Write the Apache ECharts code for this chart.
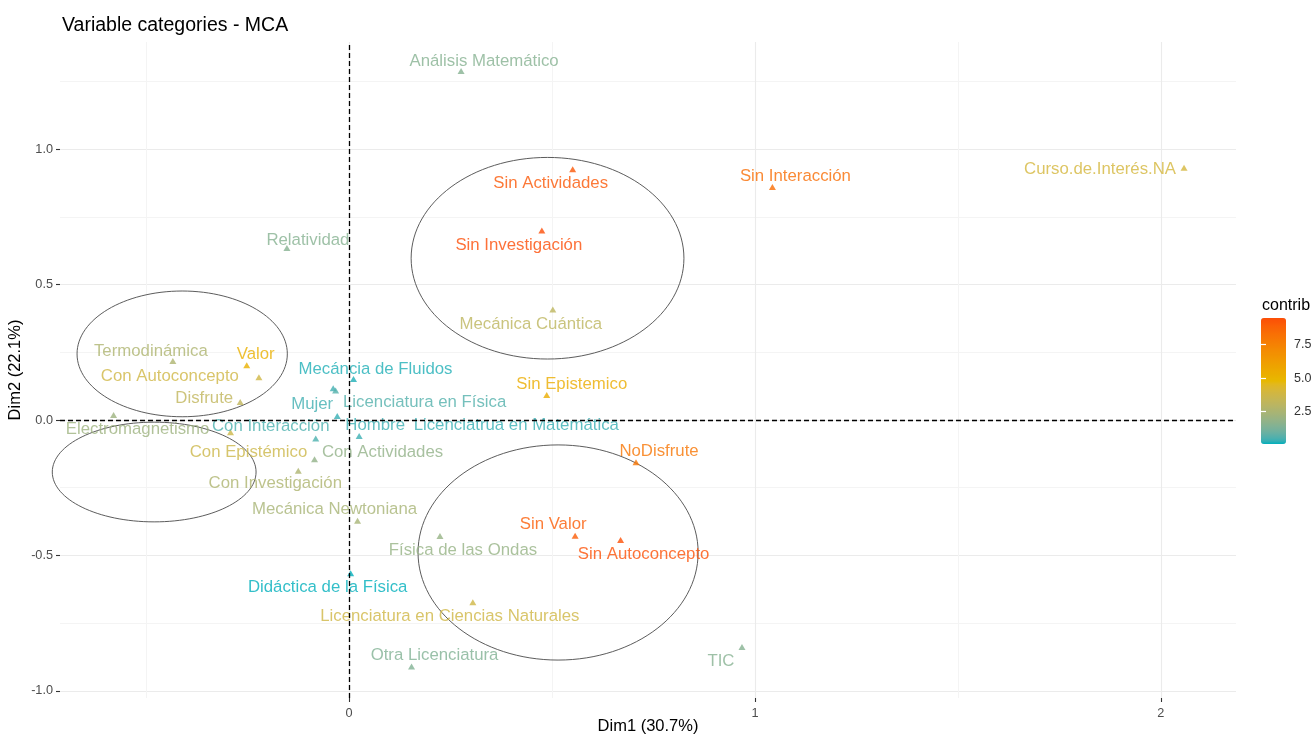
<!DOCTYPE html>
<html><head><meta charset="utf-8">
<script src="https://cdn.jsdelivr.net/npm/echarts@6/dist/echarts.min.js"></script>
<style>html,body{margin:0;padding:0;background:#fff}#c{width:1313px;height:735px}</style>
</head><body><div id="c"></div>
<script>
const categories = ["Análisis Matemático","Sin Actividades","Sin Interacción","Curso.de.Interés.NA","Sin Investigación","Relatividad","Mecánica Cuántica","Termodinámica","Valor","Con Autoconcepto","Disfrute","Electromagnetismo","Con Epistémico","Con Interacción","Con Actividades","Con Investigación","Mecáncia de Fluidos","Mujer","Licenciatura en Física","Licenciatrua en Matemática","Hombre","Sin Epistemico","NoDisfrute","Sin Valor","Sin Autoconcepto","Física de las Ondas","Licenciatura en Ciencias Naturales","Otra Licenciatura","Mecánica Newtoniana","Didáctica de la Física","TIC"];
const dim1 = [0.276,0.551,1.043,2.057,0.475,-0.153,0.502,-0.434,-0.252,-0.222,-0.268,-0.580,-0.292,-0.082,-0.085,-0.125,0.011,-0.039,-0.033,-0.029,0.025,0.487,0.707,0.557,0.669,0.224,0.305,0.154,0.021,0.004,0.968];
const dim2 = [1.288,0.925,0.860,0.931,0.699,0.635,0.408,0.218,0.202,0.158,0.066,0.018,-0.045,-0.068,-0.145,-0.187,0.151,0.117,0.109,0.015,-0.059,0.092,-0.156,-0.427,-0.443,-0.428,-0.673,-0.910,-0.372,-0.566,-0.838];
const contrib = [1.5,9.2,8.4,4.0,9.5,1.5,3.1,2.6,5.2,3.8,3.2,2.1,3.7,0.5,1.8,2.6,0.2,0.4,0.6,0.3,0.35,5.4,8.0,9.0,9.4,1.9,3.8,1.4,2.4,0.07,1.5];
// ellipse annotations: centre x, centre y, radius x, radius y (data units)
const ellipseCx = [0.489,-0.411,-0.480,0.515];
const ellipseCy = [0.597,0.244,-0.192,-0.489];
const ellipseRx = [0.336,0.259,0.251,0.345];
const ellipseRy = [0.372,0.232,0.184,0.397];
const xTicks = [0,1,2];
const xMinor = [-0.5,0.5,1.5];
const yTicks = [-1.0,-0.5,0.0,0.5,1.0];
const yMinor = [-0.75,-0.25,0.25,0.75,1.25];
const legendTicks = [2.5,5.0,7.5];
const gradientCols = ['#00AFBB','#E7B800','#FC4E07'];

// label placement (pixel offsets from the point, layout only)
const labelOffsets = [[23,-10],[-22,14],[23,-11],[-84,2],[-23,15],[21,-8],[-22,15],[-22,-10],[9,-11],[-89,-1],[-36,-4],[24,14],[18,20],[-45,-12],[68,-7],[-23,13],[22,-10],[-21,16],[89,12],[179,9],[16,-11],[25,-11],[23,-11],[-22,-11],[23,14],[23,14],[-23,14],[23,-11],[-23,-11],[-23,14],[-21,14]];

// Lab-space interpolation of the gradient (as ggplot does)
function hex2rgb(h){h=h.replace('#','');return [0,2,4].map(i=>parseInt(h.substr(i,2),16)/255);}
function lin(c){return c<=0.04045?c/12.92:Math.pow((c+0.055)/1.055,2.4);}
function delin(c){return c<=0.0031308?12.92*c:1.055*Math.pow(c,1/2.4)-0.055;}
function rgb2lab(rgb){
  const [r,g,b]=rgb.map(lin);
  let X=(0.4124*r+0.3576*g+0.1805*b)/0.95047, Y=(0.2126*r+0.7152*g+0.0722*b), Z=(0.0193*r+0.1192*g+0.9505*b)/1.08883;
  const f=t=>t>0.008856?Math.cbrt(t):7.787*t+16/116;
  return [116*f(Y)-16, 500*(f(X)-f(Y)), 200*(f(Y)-f(Z))];
}
function lab2hex(lab){
  const fy=(lab[0]+16)/116, fx=fy+lab[1]/500, fz=fy-lab[2]/200;
  const fi=t=>t*t*t>0.008856?t*t*t:(t-16/116)/7.787;
  const X=fi(fx)*0.95047, Y=fi(fy), Z=fi(fz)*1.08883;
  let r=3.2406*X-1.5372*Y-0.4986*Z, g=-0.9689*X+1.8758*Y+0.0415*Z, b=0.0557*X-0.2040*Y+1.0570*Z;
  return '#'+[r,g,b].map(c=>{let v=Math.round(Math.min(1,Math.max(0,delin(c)))*255);return v.toString(16).padStart(2,'0');}).join('');
}
const labStops=gradientCols.map(h=>rgb2lab(hex2rgb(h)));
const rampColors=[];
const STEPS=20;
for(let s=0;s<labStops.length-1;s++){
  for(let k=0;k<STEPS;k++){
    const t=k/STEPS,a=labStops[s],b=labStops[s+1];
    rampColors.push(lab2hex(a.map((v,j)=>v+(b[j]-v)*t)));
  }
}
rampColors.push(gradientCols[gradientCols.length-1]);

const FONT = '"Liberation Sans", Arial, Helvetica, sans-serif';
const cMin = Math.min(...contrib), cMax = Math.max(...contrib);
const X_MIN = -0.712, X_MAX = 2.185, Y_MIN = -1.026, Y_MAX = 1.395;

const pts = categories.map((n,i)=>({
  value:[dim1[i],dim2[i],contrib[i],n],
  label:{offset:labelOffsets[i]}
}));
const ell = ellipseCx.map((c,i)=>[c,ellipseCy[i],ellipseRx[i],ellipseRy[i]]);

const chart = echarts.init(document.getElementById('c'), null, {renderer:'canvas'});
chart.setOption({
  animation:false,
  backgroundColor:'#fff',
  textStyle:{fontFamily:FONT},
  title:[
    {text:'Variable categories - MCA', left:57, top:11, textStyle:{fontFamily:FONT,fontSize:19.5,fontWeight:'normal',color:'#000'}},
    {text:'contrib', left:1257, top:293, textStyle:{fontFamily:FONT,fontSize:16,fontWeight:'normal',color:'#000'}}
  ],
  grid:[
    {left:60, right:77, top:42, bottom:37, outerBoundsMode:'none', containLabel:false},
    {left:1261, width:25, top:318, height:126, outerBoundsMode:'none', containLabel:false}
  ],
  xAxis:[
    {type:'value', gridIndex:0, min:X_MIN, max:X_MAX,
     name:'Dim1 (30.7%)', nameLocation:'middle', nameGap:20, nameMoveOverlap:false,
     nameTextStyle:{fontFamily:FONT,fontSize:16.5,color:'#000'},
     axisLine:{show:false,onZero:false},
     axisTick:{show:true,length:4,customValues:xTicks,lineStyle:{color:'#333',width:1.1}},
     axisLabel:{customValues:xTicks,margin:9,fontSize:12.7,color:'#4D4D4D',fontFamily:FONT,formatter:v=>String(v)},
     splitLine:{show:true,lineStyle:{color:'#EBEBEB',width:1.1}}},
    {type:'value', gridIndex:0, min:X_MIN, max:X_MAX,
     axisLine:{show:false,onZero:false},
     axisTick:{show:false,customValues:xMinor},
     axisLabel:{show:false,customValues:xMinor},
     splitLine:{show:true,lineStyle:{color:'#F4F4F4',width:1}}},
    {type:'value', gridIndex:1, min:0, max:1, show:false}
  ],
  yAxis:[
    {type:'value', gridIndex:0, min:Y_MIN, max:Y_MAX,
     name:'Dim2 (22.1%)', nameLocation:'middle', nameGap:36, nameRotate:90, nameMoveOverlap:false,
     nameTextStyle:{fontFamily:FONT,fontSize:16.5,color:'#000'},
     axisLine:{show:false,onZero:false},
     axisTick:{show:true,length:4,customValues:yTicks,lineStyle:{color:'#333',width:1.1}},
     axisLabel:{customValues:yTicks,margin:7,fontSize:12.7,color:'#4D4D4D',fontFamily:FONT,formatter:v=>v.toFixed(1)},
     splitLine:{show:true,lineStyle:{color:'#EBEBEB',width:1.1}}},
    {type:'value', gridIndex:0, min:Y_MIN, max:Y_MAX,
     axisLine:{show:false,onZero:false},
     axisTick:{show:false,customValues:yMinor},
     axisLabel:{show:false,customValues:yMinor},
     splitLine:{show:true,lineStyle:{color:'#F4F4F4',width:1}}},
    {type:'value', gridIndex:1, min:cMin, max:cMax, position:'right', z:10,
     axisLine:{show:false},
     axisTick:{show:true,inside:true,length:5,customValues:legendTicks,lineStyle:{color:'#fff',width:1.2}},
     axisLabel:{customValues:legendTicks,margin:8,fontSize:12.5,color:'#333',fontFamily:FONT,formatter:v=>v.toFixed(1)},
     splitLine:{show:false}},
    {type:'value', gridIndex:1, min:cMin, max:cMax, position:'left', z:10,
     axisLine:{show:false},
     axisTick:{show:true,inside:true,length:5,customValues:legendTicks,lineStyle:{color:'#fff',width:1.2}},
     axisLabel:{show:false,customValues:legendTicks},
     splitLine:{show:false}}
  ],
  visualMap:{
    type:'continuous', seriesIndex:1, dimension:2, min:cMin, max:cMax,
    inRange:{color:rampColors},
    left:1261, top:318, itemWidth:25, itemHeight:126, padding:0,
    calculable:false, text:null, showLabel:false, hoverLink:false, z:5
  },
  series:[
    {type:'custom', xAxisIndex:0, yAxisIndex:0, silent:true, clip:false, z:1,
     data:ell, encode:{x:0,y:1},
     renderItem:(params,api)=>{
       const c = api.coord([api.value(0),api.value(1)]);
       const sx = api.size([api.value(2),0])[0];
       const sy = api.size([0,api.value(3)])[1];
       return {type:'ellipse', shape:{cx:c[0],cy:c[1],rx:sx,ry:sy},
               style:{fill:null,stroke:'#4a4a4a',lineWidth:0.9}};
     }},
    {type:'scatter', xAxisIndex:0, yAxisIndex:0, symbol:'triangle', symbolSize:[7,6], z:3,
     data:pts,
     label:{show:true, position:'inside', color:'inherit', fontSize:16.8, fontFamily:FONT,
            formatter:p=>p.value[3]},
     emphasis:{disabled:true},
     markLine:{silent:true, symbol:'none', label:{show:false},
       lineStyle:{color:'#000',type:[5,3],width:1.3},
       data:[{xAxis:0},{yAxis:0}]}
    }
  ]
});
</script>
</body></html>
